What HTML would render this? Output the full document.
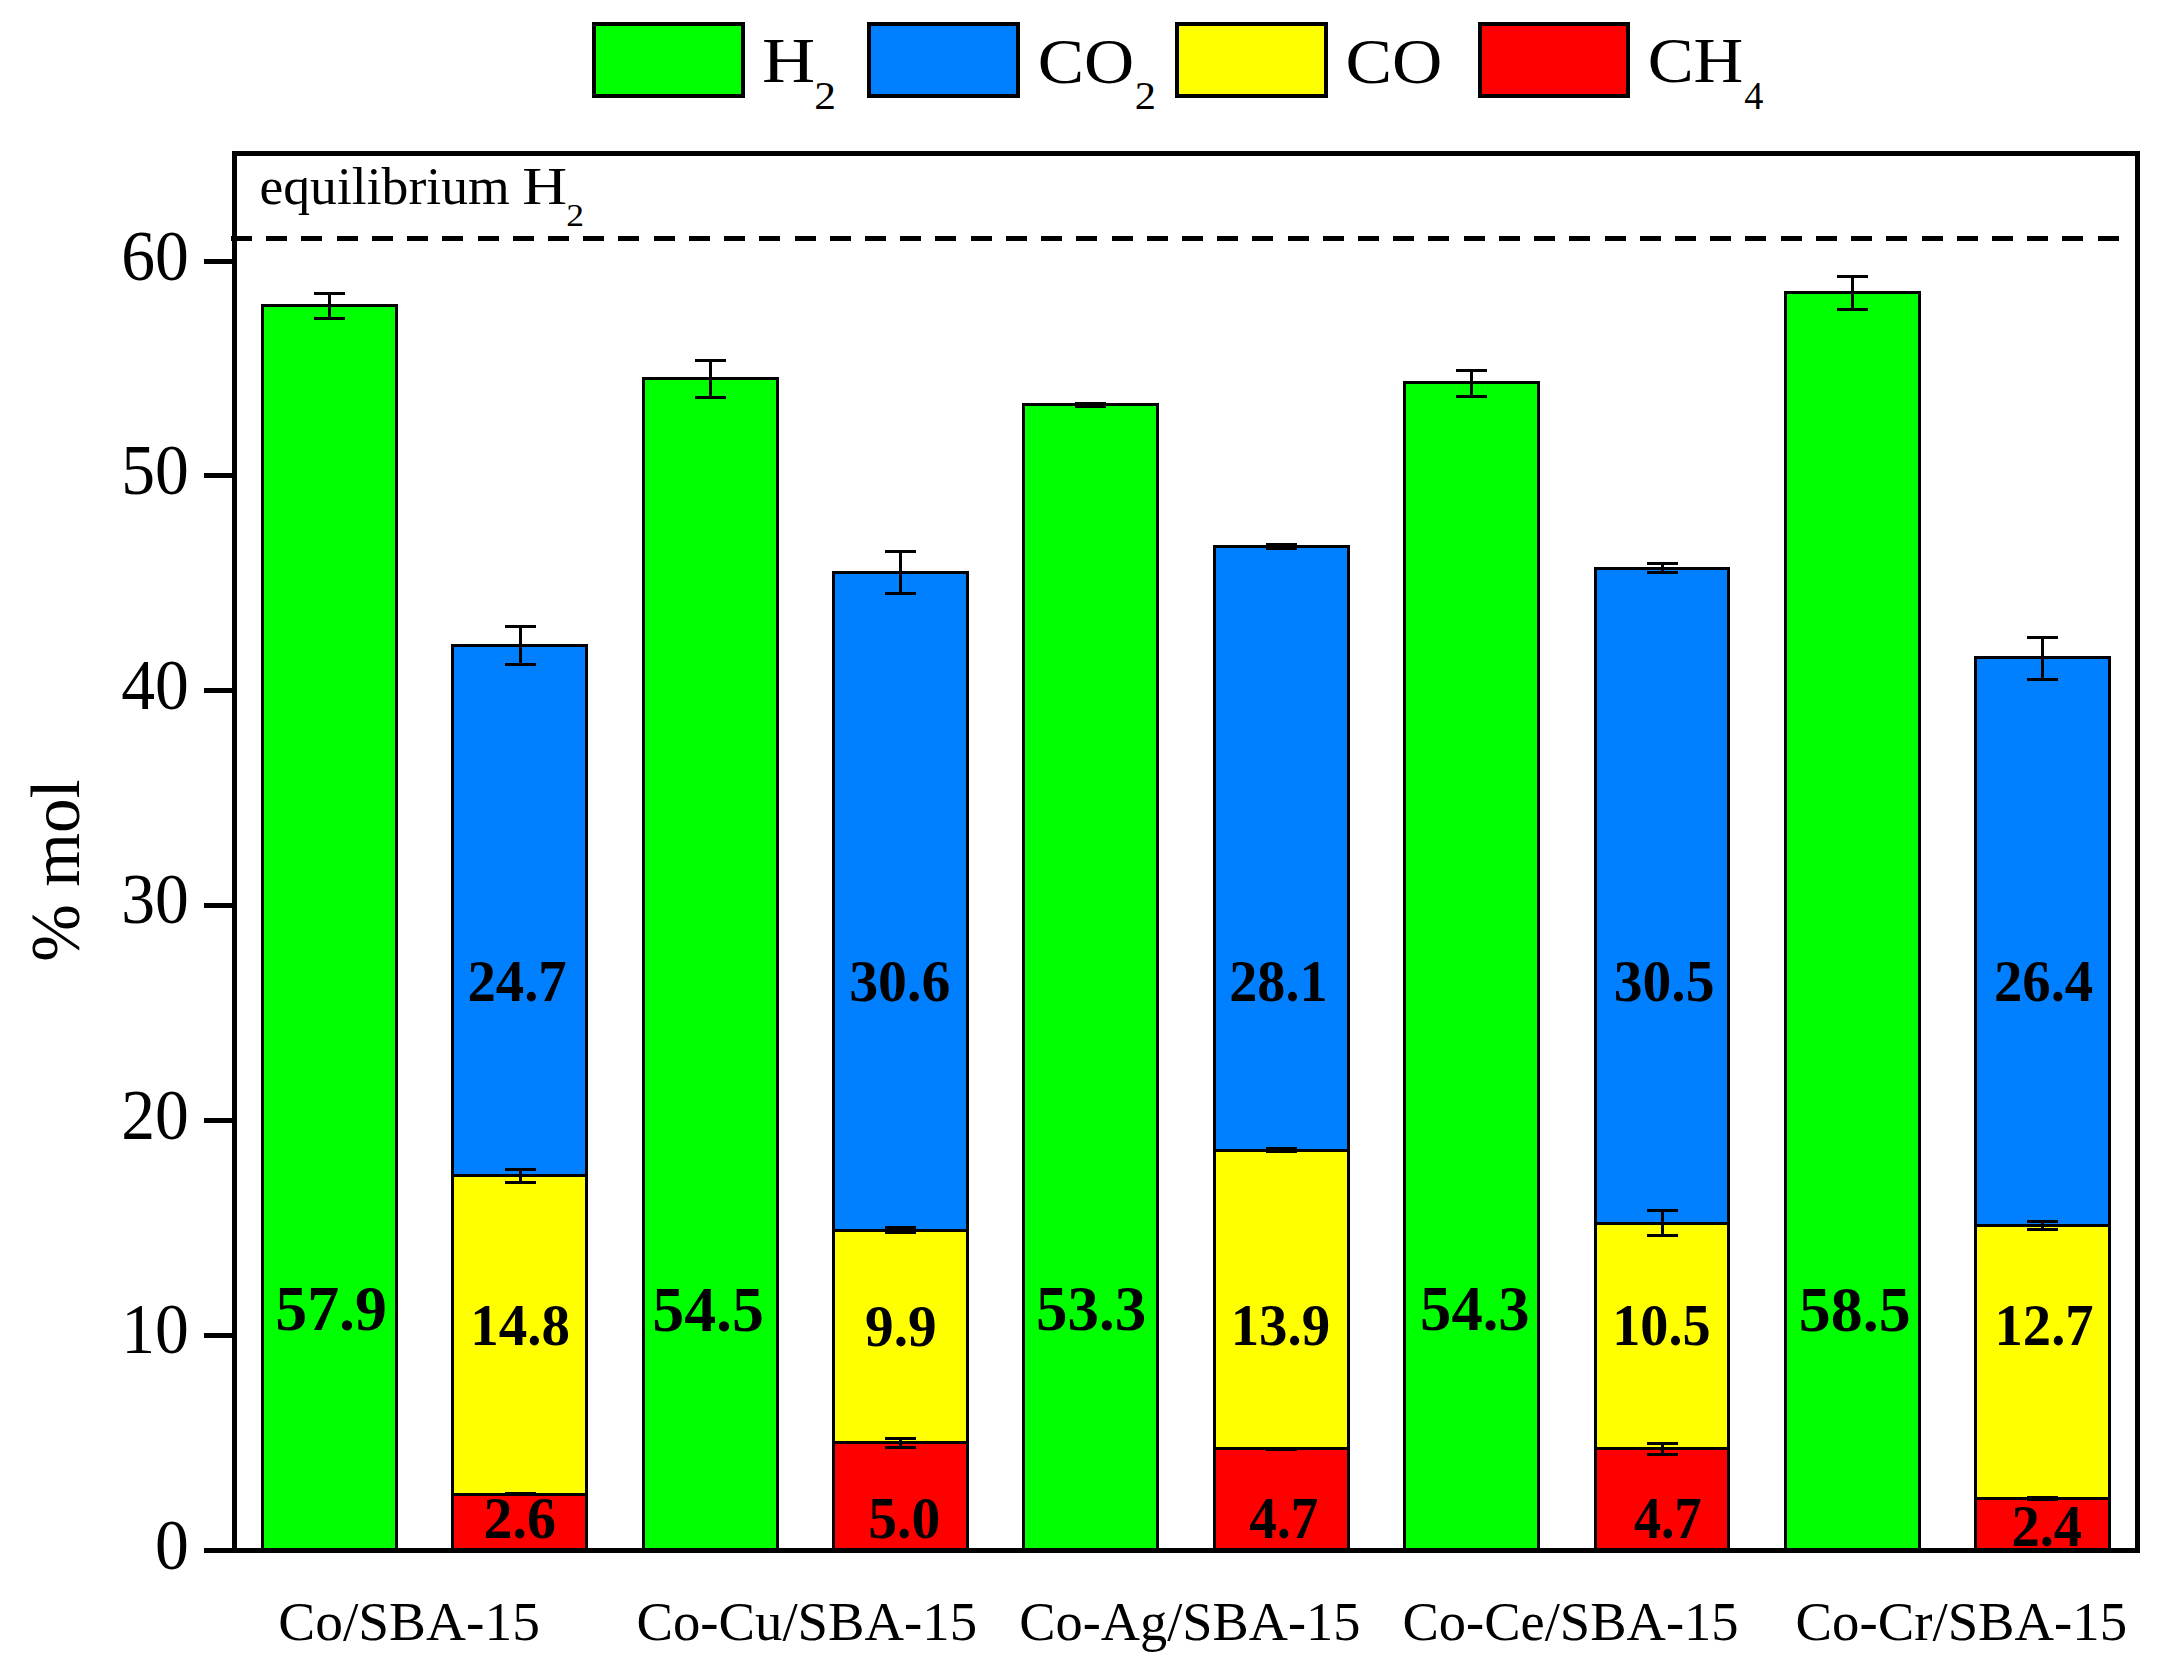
<!DOCTYPE html>
<html><head><meta charset="utf-8"><title>Product gas composition</title>
<style>html,body{margin:0;padding:0;background:#fff;overflow:hidden}svg{display:block}</style></head>
<body><svg shape-rendering="crispEdges" width="2177" height="1679" viewBox="0 0 2177 1679">
<rect width="2177" height="1679" fill="#fff"/>
<g id="bars">
<rect x="262.50" y="305.50" width="134.00" height="1245.00" fill="#00ff00" stroke="#000" stroke-width="3.0"/>
<rect x="452.50" y="645.50" width="134.00" height="530.00" fill="#0080ff" stroke="#000" stroke-width="3.0"/>
<rect x="452.50" y="1175.50" width="134.00" height="319.00" fill="#ffff00" stroke="#000" stroke-width="3.0"/>
<rect x="452.50" y="1494.50" width="134.00" height="56.00" fill="#ff0000" stroke="#000" stroke-width="3.0"/>
<rect x="643.50" y="378.50" width="134.00" height="1172.00" fill="#00ff00" stroke="#000" stroke-width="3.0"/>
<rect x="833.50" y="572.50" width="134.00" height="658.00" fill="#0080ff" stroke="#000" stroke-width="3.0"/>
<rect x="833.50" y="1230.50" width="134.00" height="212.00" fill="#ffff00" stroke="#000" stroke-width="3.0"/>
<rect x="833.50" y="1442.50" width="134.00" height="108.00" fill="#ff0000" stroke="#000" stroke-width="3.0"/>
<rect x="1023.50" y="404.50" width="134.00" height="1146.00" fill="#00ff00" stroke="#000" stroke-width="3.0"/>
<rect x="1214.50" y="546.50" width="134.00" height="604.00" fill="#0080ff" stroke="#000" stroke-width="3.0"/>
<rect x="1214.50" y="1150.50" width="134.00" height="298.00" fill="#ffff00" stroke="#000" stroke-width="3.0"/>
<rect x="1214.50" y="1448.50" width="134.00" height="102.00" fill="#ff0000" stroke="#000" stroke-width="3.0"/>
<rect x="1404.50" y="382.50" width="134.00" height="1168.00" fill="#00ff00" stroke="#000" stroke-width="3.0"/>
<rect x="1595.50" y="568.50" width="133.00" height="655.00" fill="#0080ff" stroke="#000" stroke-width="3.0"/>
<rect x="1595.50" y="1223.50" width="133.00" height="225.00" fill="#ffff00" stroke="#000" stroke-width="3.0"/>
<rect x="1595.50" y="1448.50" width="133.00" height="102.00" fill="#ff0000" stroke="#000" stroke-width="3.0"/>
<rect x="1785.50" y="292.50" width="134.00" height="1258.00" fill="#00ff00" stroke="#000" stroke-width="3.0"/>
<rect x="1975.50" y="657.50" width="134.00" height="568.00" fill="#0080ff" stroke="#000" stroke-width="3.0"/>
<rect x="1975.50" y="1225.50" width="134.00" height="273.00" fill="#ffff00" stroke="#000" stroke-width="3.0"/>
<rect x="1975.50" y="1498.50" width="134.00" height="52.00" fill="#ff0000" stroke="#000" stroke-width="3.0"/>
</g>
<g id="errors">
<path d="M329.50 293.5V318.5M314.00 293.5h31M314.00 318.5h31" stroke="#000" stroke-width="3.0" fill="none"/>
<path d="M520.50 1493.5V1494.5M505.00 1493.5h31M505.00 1494.5h31" stroke="#000" stroke-width="3.0" fill="none"/>
<path d="M520.50 1169.5V1182.5M505.00 1169.5h31M505.00 1182.5h31" stroke="#000" stroke-width="3.0" fill="none"/>
<path d="M520.50 626.5V664.5M505.00 626.5h31M505.00 664.5h31" stroke="#000" stroke-width="3.0" fill="none"/>
<path d="M710.50 360.5V397.5M695.00 360.5h31M695.00 397.5h31" stroke="#000" stroke-width="3.0" fill="none"/>
<path d="M900.50 1438.5V1447.5M885.00 1438.5h31M885.00 1447.5h31" stroke="#000" stroke-width="3.0" fill="none"/>
<path d="M900.50 1227.5V1232.5M885.00 1227.5h31M885.00 1232.5h31" stroke="#000" stroke-width="3.0" fill="none"/>
<path d="M900.50 551.5V593.5M885.00 551.5h31M885.00 593.5h31" stroke="#000" stroke-width="3.0" fill="none"/>
<path d="M1090.50 403.5V406.5M1075.00 403.5h31M1075.00 406.5h31" stroke="#000" stroke-width="3.0" fill="none"/>
<path d="M1281.50 1449.5V1449.5M1266.00 1449.5h31M1266.00 1449.5h31" stroke="#000" stroke-width="3.0" fill="none"/>
<path d="M1281.50 1148.5V1151.5M1266.00 1148.5h31M1266.00 1151.5h31" stroke="#000" stroke-width="3.0" fill="none"/>
<path d="M1281.50 544.5V548.5M1266.00 544.5h31M1266.00 548.5h31" stroke="#000" stroke-width="3.0" fill="none"/>
<path d="M1471.50 370.5V396.5M1456.00 370.5h31M1456.00 396.5h31" stroke="#000" stroke-width="3.0" fill="none"/>
<path d="M1662.50 1443.5V1454.5M1647.00 1443.5h31M1647.00 1454.5h31" stroke="#000" stroke-width="3.0" fill="none"/>
<path d="M1662.50 1210.5V1235.5M1647.00 1210.5h31M1647.00 1235.5h31" stroke="#000" stroke-width="3.0" fill="none"/>
<path d="M1662.50 563.5V572.5M1647.00 563.5h31M1647.00 572.5h31" stroke="#000" stroke-width="3.0" fill="none"/>
<path d="M1852.50 276.5V309.5M1837.00 276.5h31M1837.00 309.5h31" stroke="#000" stroke-width="3.0" fill="none"/>
<path d="M2042.50 1497.5V1499.5M2027.00 1497.5h31M2027.00 1499.5h31" stroke="#000" stroke-width="3.0" fill="none"/>
<path d="M2042.50 1221.5V1229.5M2027.00 1221.5h31M2027.00 1229.5h31" stroke="#000" stroke-width="3.0" fill="none"/>
<path d="M2042.50 637.5V679.5M2027.00 637.5h31M2027.00 679.5h31" stroke="#000" stroke-width="3.0" fill="none"/>
</g>
<line x1="231" y1="238.5" x2="2119" y2="238.5" stroke="#000" stroke-width="5" stroke-dasharray="21 14.22"/>
<rect x="234.5" y="153.5" width="1903.00" height="1397.00" fill="none" stroke="#000" stroke-width="5"/>
<line x1="204" y1="1550.5" x2="234.5" y2="1550.5" stroke="#000" stroke-width="5"/>
<line x1="204" y1="1335" x2="234.5" y2="1335" stroke="#000" stroke-width="5"/>
<line x1="204" y1="1120.5" x2="234.5" y2="1120.5" stroke="#000" stroke-width="5"/>
<line x1="204" y1="905" x2="234.5" y2="905" stroke="#000" stroke-width="5"/>
<line x1="204" y1="690.5" x2="234.5" y2="690.5" stroke="#000" stroke-width="5"/>
<line x1="204" y1="475.5" x2="234.5" y2="475.5" stroke="#000" stroke-width="5"/>
<line x1="204" y1="261.5" x2="234.5" y2="261.5" stroke="#000" stroke-width="5"/>
<g font-family='"Liberation Serif", serif' fill="#000">
<text transform="translate(155.03,1568.50) scale(0.9469,1)" font-size="71.4">0</text>
<text transform="translate(121.23,1353.00) scale(0.9469,1)" font-size="71.4">10</text>
<text transform="translate(121.23,1138.50) scale(0.9469,1)" font-size="71.4">20</text>
<text transform="translate(121.23,923.00) scale(0.9469,1)" font-size="71.4">30</text>
<text transform="translate(121.23,708.50) scale(0.9469,1)" font-size="71.4">40</text>
<text transform="translate(121.23,493.50) scale(0.9469,1)" font-size="71.4">50</text>
<text transform="translate(121.23,279.50) scale(0.9469,1)" font-size="71.4">60</text>
<text transform="translate(79.20,961.72) rotate(-90) scale(0.9936,1)" font-size="69.6">% mol</text>
<text transform="translate(761.97,82.00) scale(1.1513,1)" font-size="64">H</text>
<text transform="translate(814.15,108.70) scale(1.1091,1)" font-size="39.2">2</text>
<text transform="translate(1037.72,82.50) scale(1.0854,1)" font-size="64">CO</text>
<text transform="translate(1134.69,108.70) scale(1.0838,1)" font-size="39.2">2</text>
<text transform="translate(1345.61,82.50) scale(1.0890,1)" font-size="64">CO</text>
<text transform="translate(1647.65,82.00) scale(1.0760,1)" font-size="64">CH</text>
<text transform="translate(1744.23,108.70) scale(0.9765,1)" font-size="39.2">4</text>
<text transform="translate(259.46,204.00) scale(1.0004,1)" font-size="53.6">equilibrium</text>
<text transform="translate(522.19,204.00) scale(1.1587,1)" font-size="53.6">H</text>
<text transform="translate(566.29,226.00) scale(1.1102,1)" font-size="32">2</text>
<text transform="translate(278.28,1640.00) scale(1.0165,1)" font-size="54.5">Co/SBA-15</text>
<text transform="translate(636.41,1640.00) scale(1.0046,1)" font-size="54.5">Co-Cu/SBA-15</text>
<text transform="translate(1019.33,1640.00) scale(0.9969,1)" font-size="54.5">Co-Ag/SBA-15</text>
<text transform="translate(1402.42,1640.00) scale(1.0001,1)" font-size="54.5">Co-Ce/SBA-15</text>
<text transform="translate(1795.61,1640.00) scale(1.0045,1)" font-size="54.5">Co-Cr/SBA-15</text>
<text transform="translate(275.24,1330.20) scale(1.0092,1)" font-size="63.3" font-weight="bold">57.9</text>
<text transform="translate(652.25,1331.10) scale(1.0088,1)" font-size="63.3" font-weight="bold">54.5</text>
<text transform="translate(1036.08,1329.80) scale(0.9950,1)" font-size="63.3" font-weight="bold">53.3</text>
<text transform="translate(1420.10,1329.80) scale(0.9884,1)" font-size="63.3" font-weight="bold">54.3</text>
<text transform="translate(1798.85,1331.00) scale(1.0088,1)" font-size="63.3" font-weight="bold">58.5</text>
<text transform="translate(467.39,1001.00) scale(0.9686,1)" font-size="58.6" font-weight="bold">24.7</text>
<text transform="translate(849.13,1001.00) scale(0.9869,1)" font-size="58.6" font-weight="bold">30.6</text>
<text transform="translate(1229.31,1001.00) scale(0.9579,1)" font-size="58.6" font-weight="bold">28.1</text>
<text transform="translate(1613.74,1001.10) scale(0.9821,1)" font-size="58.6" font-weight="bold">30.5</text>
<text transform="translate(1993.89,1001.00) scale(0.9684,1)" font-size="58.6" font-weight="bold">26.4</text>
<text transform="translate(470.24,1345.40) scale(0.9723,1)" font-size="58.6" font-weight="bold">14.8</text>
<text transform="translate(865.12,1345.60) scale(0.9786,1)" font-size="58.6" font-weight="bold">9.9</text>
<text transform="translate(1230.65,1345.20) scale(0.9707,1)" font-size="58.6" font-weight="bold">13.9</text>
<text transform="translate(1612.20,1345.20) scale(0.9606,1)" font-size="58.6" font-weight="bold">10.5</text>
<text transform="translate(1994.57,1345.20) scale(0.9658,1)" font-size="58.6" font-weight="bold">12.7</text>
<text transform="translate(483.54,1538.30) scale(0.9884,1)" font-size="58.6" font-weight="bold">2.6</text>
<text transform="translate(868.29,1538.20) scale(0.9839,1)" font-size="58.6" font-weight="bold">5.0</text>
<text transform="translate(1249.31,1538.40) scale(0.9416,1)" font-size="58.6" font-weight="bold">4.7</text>
<text transform="translate(1633.92,1538.40) scale(0.9247,1)" font-size="58.6" font-weight="bold">4.7</text>
<text transform="translate(2011.39,1545.70) scale(0.9665,1)" font-size="58.6" font-weight="bold">2.4</text>
</g>
<rect x="594" y="24" width="149" height="72" fill="#00ff00" stroke="#000" stroke-width="4"/>
<rect x="869" y="24" width="149" height="72" fill="#0080ff" stroke="#000" stroke-width="4"/>
<rect x="1177" y="24" width="149" height="72" fill="#ffff00" stroke="#000" stroke-width="4"/>
<rect x="1480" y="24" width="148" height="72" fill="#ff0000" stroke="#000" stroke-width="4"/>
</svg></body></html>
